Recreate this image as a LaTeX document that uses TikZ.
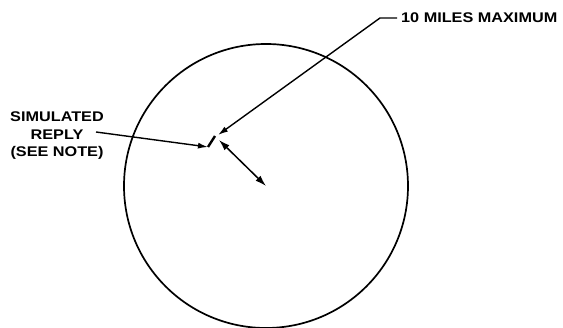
\documentclass[tikz,border=0pt]{standalone}
\usepackage{fontspec}
\newfontfamily\letterfont[FakeStretch=1.16]{Liberation Sans Bold}
\usetikzlibrary{arrows.meta, positioning}

\begin{document}
\begin{tikzpicture}[x=1pt, y=-1pt,
    lettering/.style={font=\letterfont\fontsize{14}{17.5}\selectfont, inner sep=0pt},
    leader/.style={line width=1.4pt, -{Latex[length=10pt, width=6pt]}}]
      \useasboundingbox (0,0) rectangle (563,328);
      % Range circle
      \coordinate (c) at (266,186);
      \draw[line width=1.7pt] (c) circle (142);
      % Simulated reply mark
      \coordinate (m1) at (208,147);
      \coordinate (m2) at (215,136);
      \draw[line width=2.4pt] (m1) -- (m2);
      \draw[line width=1.5pt, {Latex[length=11pt, width=7pt]}-{Latex[length=11pt, width=7pt]}]
            (219,140) -- (c);
      % Labels
      \node[lettering, anchor=west] (ten) at (401,18) {10 MILES MAXIMUM};
      \node[lettering, align=center] (reply) at (57,136) {SIMULATED\\REPLY\\(SEE NOTE)};
      \coordinate (bend) at (380,18);
      \draw[leader] (ten.west) ++(-4,0) -- (bend) -- (218,135);
      \draw[leader] (96,132) -- (m1);
    \end{tikzpicture}
\end{document}
